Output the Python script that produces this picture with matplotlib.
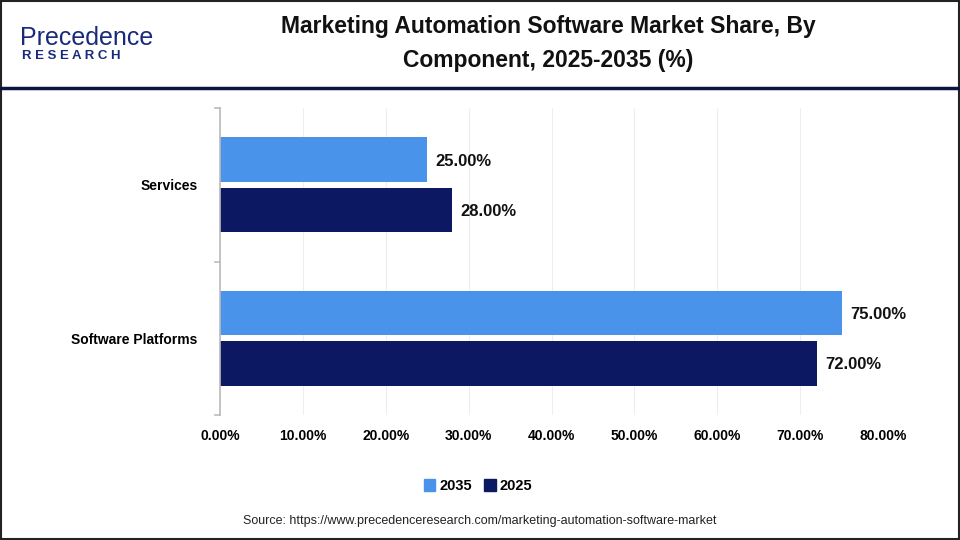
import matplotlib
matplotlib.use("Agg")
import matplotlib.pyplot as plt
from matplotlib.patches import Rectangle
from matplotlib.lines import Line2D
import numpy as np

categories = ["Software Platforms", "Services"]
series_names = ["2035", "2025"]
values_2035 = [75.0, 25.0]
values_2025 = [72.0, 28.0]
xticks = [0, 10, 20, 30, 40, 50, 60, 70, 80]
colors = {"2035": "#4A93EA", "2025": "#0C1862"}

plt.rcParams['font.family'] = ['Liberation Sans', 'DejaVu Sans']

fig = plt.figure(figsize=(9.6, 5.4), dpi=100)
W, H = 960, 540

def fx(x):
    return x / W

def fy(y):
    return 1 - y / H

# outer border
fig.add_artist(Rectangle((0.001, 0.001), 0.998, 0.997, transform=fig.transFigure,
                         fill=False, edgecolor="#222222", linewidth=1.5))
# header separator
fig.add_artist(Line2D([0, 1], [fy(88), fy(88)], transform=fig.transFigure,
                      color="#0C1440", linewidth=2.5))

# logo
fig.text(fx(20), fy(38), "Precedence", fontsize=18, color="#1A2A7A",
         ha="left", va="center", fontweight="normal")
fig.text(fx(22), fy(56), "R E S E A R C H", fontsize=9.5, color="#1A2A7A",
         ha="left", va="center", fontweight="bold")

# title
fig.text(fx(548), fy(27), "Marketing Automation Software Market Share, By",
         fontsize=16.5, fontweight="bold", ha="center", va="center", color="#111111")
fig.text(fx(548), fy(60), "Component, 2025-2035 (%)",
         fontsize=16.5, fontweight="bold", ha="center", va="center", color="#111111")

ax = fig.add_axes([fx(220), fy(415), fx(883) - fx(220), (415 - 108) / H])

y = np.arange(len(categories))
h = 0.29
off = 0.163
b1 = ax.barh(y + off, values_2035, height=h, color=colors["2035"], label="2035")
b2 = ax.barh(y - off, values_2025, height=h, color=colors["2025"], label="2025")

for bars, vals in ((b1, values_2035), (b2, values_2025)):
    for bar, v in zip(bars, vals):
        ax.text(v + 1.0, bar.get_y() + bar.get_height() / 2 - 0.01, f"{v:.2f}%",
                va="center", ha="left", fontsize=12, fontweight="bold", color="#111111")

ax.set_xlim(0, 80)
ax.set_ylim(-0.5, 1.5)
ax.set_xticks(xticks)
ax.set_xticklabels([f"{t:.2f}%" for t in xticks], fontsize=10, fontweight="bold")
ax.set_yticks(y)
ax.set_yticklabels(categories, fontsize=10, fontweight="bold")
ax.tick_params(axis="x", length=0, pad=10)
ax.tick_params(axis="y", length=0, pad=16)
# category boundary tick marks
for yb in (-0.5, 0.5, 1.5):
    ax.plot([-0.6, 0], [yb, yb], color="#BBBBBB", linewidth=1.2, clip_on=False)

ax.grid(axis="x", color="#EEEEEE", linewidth=0.8)
ax.set_axisbelow(True)
for s in ("top", "right", "bottom"):
    ax.spines[s].set_visible(False)
ax.spines["left"].set_color("#BBBBBB")
ax.spines["left"].set_linewidth(1.2)

handles = [Rectangle((0, 0), 1, 1, color=colors[n]) for n in series_names]
fig.legend(handles, series_names, loc="center", bbox_to_anchor=(fx(478), fy(486)),
           ncol=2, frameon=False, prop={"weight": "bold", "size": 10.5},
           handlelength=0.8, handleheight=0.8, handletextpad=0.3, columnspacing=0.8)

fig.text(fx(480), fy(521),
         "Source: https://www.precedenceresearch.com/marketing-automation-software-market",
         fontsize=9, ha="center", va="center", color="#222222")

fig.savefig("out.png", dpi=100)
